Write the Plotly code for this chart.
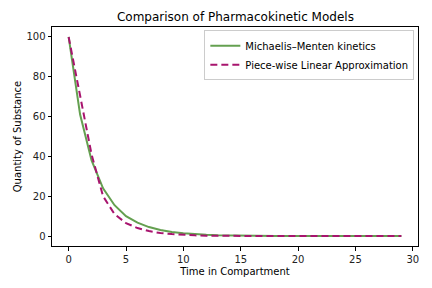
import plotly.graph_objects as go

time = list(range(30))
michaelis_menten = [100, 61, 38, 24, 15.5, 10, 6.7, 4.5, 3.0, 2.0, 1.4, 0.9, 0.6, 0.4, 0.27,
                    0.18, 0.12, 0.08, 0.05, 0.035, 0.02, 0.015, 0.01, 0.007, 0.005, 0.003,
                    0.002, 0.001, 0.001, 0.0]
piecewise_linear = [100, 70, 41, 20, 11, 6.5, 4.0, 2.5, 1.5, 1.0, 0.6, 0.35, 0.2, 0.1, 0.06,
                    0.03, 0.02, 0.01, 0.005, 0.003, 0.002, 0.001, 0.0, 0.0, 0.0, 0.0,
                    0.0, 0.0, 0.0, 0.0]
x_ticks = [0, 5, 10, 15, 20, 25, 30]
y_ticks = [0, 20, 40, 60, 80, 100]

fig = go.Figure()
fig.add_trace(go.Scatter(x=time, y=michaelis_menten, mode="lines",
                         name="Michaelis\u2013Menten kinetics",
                         line=dict(color="#64a050", width=2)))
fig.add_trace(go.Scatter(x=time, y=piecewise_linear, mode="lines",
                         name="Piece-wise Linear Approximation",
                         line=dict(color="#a8146e", width=2, dash="7px,4px")))

axis_common = dict(showline=True, linecolor="black", linewidth=1, mirror=True,
                   ticks="outside", ticklen=3.5, tickcolor="black", tickwidth=1,
                   showgrid=False, zeroline=False, automargin=False,
                   tickfont=dict(family="DejaVu Sans", size=10, color="#222"))

fig.update_layout(
    width=432, height=288,
    margin=dict(l=52, r=14, t=27, b=42, autoexpand=False),
    paper_bgcolor="white", plot_bgcolor="white",
    title=dict(text="Comparison of Pharmacokinetic Models", x=0.545, xanchor="center",
               y=0.94, yanchor="middle",
               font=dict(family="DejaVu Sans", size=12, color="black")),
    xaxis=dict(range=[-1.45, 30.45], tickvals=x_ticks,
               title=dict(text="Time in Compartment", standoff=4,
                          font=dict(family="DejaVu Sans", size=10, color="black")),
               **axis_common),
    yaxis=dict(range=[-5, 105], tickvals=y_ticks,
               title=dict(text="Quantity of Substance", standoff=2,
                          font=dict(family="DejaVu Sans", size=10, color="black")),
               **axis_common),
    legend=dict(x=0.99, y=0.985, xanchor="right", yanchor="top",
                bgcolor="white", bordercolor="#cccccc", borderwidth=1,
                font=dict(family="DejaVu Sans", size=10, color="black"),
                tracegroupgap=0, itemwidth=30),
    showlegend=True,
)

fig.write_html("out.html", config={"displayModeBar": False},
               post_script="document.body.style.margin='0';document.body.style.overflow='hidden';")
